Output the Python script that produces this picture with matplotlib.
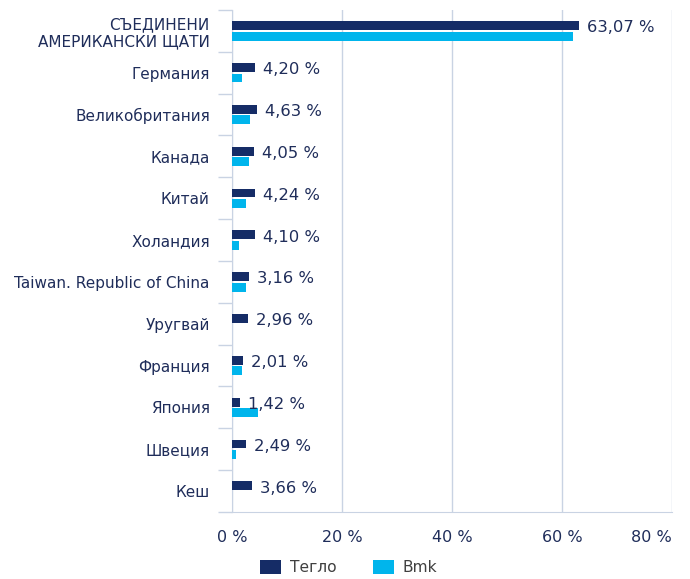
import matplotlib
matplotlib.use("Agg")
import matplotlib.pyplot as plt
import numpy as np

plt.rcParams["font.family"] = ["DejaVu Sans"]

categories = ["СЪЕДИНЕНИ\nАМЕРИКАНСКИ ЩАТИ", "Германия", "Великобритания", "Канада", "Китай",
              "Холандия", "Taiwan. Republic of China", "Уругвай", "Франция", "Япония",
              "Швеция", "Кеш"]
teglo = [63.07, 4.20, 4.63, 4.05, 4.24, 4.10, 3.16, 2.96, 2.01, 1.42, 2.49, 3.66]
bmk = [62.0, 1.9, 3.3, 3.0, 2.5, 1.2, 2.5, 0.0, 1.9, 4.8, 0.65, 0.0]
xticks = [0, 20, 40, 60, 80]
series_names = ["Тегло", "Bmk"]

navy = "#152c66"
cyan = "#00b5ec"
textc = "#1f2d5a"
gridc = "#c9d3e3"

fig = plt.figure(figsize=(6.9, 5.79), dpi=100)
ax = fig.add_axes([232/690, 1-512/579, 440/690, 502/579])

y = np.arange(len(categories))
h = 0.21
b1 = ax.barh(y - 0.125, teglo, height=h, color=navy, label=series_names[0], zorder=3)
b2 = ax.barh(y + 0.125, bmk, height=h, color=cyan, label=series_names[1], zorder=3)

for yi, v in zip(y, teglo):
    ax.text(v + 1.45, yi - 0.07, f"{v:.2f}".replace(".", ",") + " %", va="center", ha="left",
            fontsize=11.8, color=textc)

ax.set_xlim(0, 80)
ax.set_ylim(len(categories) - 0.5, -0.5)
ax.set_xticks(xticks)
ax.set_xticklabels([f"{t} %" for t in xticks], fontsize=11.5, color=textc)
ax.get_xticklabels()[-1].set_ha("right")
ax.set_yticks(y)
ax.set_yticklabels(categories, fontsize=11, color=textc, linespacing=1.15)
ax.set_yticks(np.arange(-0.5, len(categories), 1), minor=True)
ax.tick_params(axis="y", which="major", length=0, pad=16)
ax.tick_params(axis="y", which="minor", length=10, color=gridc, width=1)
ax.tick_params(axis="x", which="major", length=0, pad=13)
ax.grid(axis="x", color=gridc, linewidth=1, zorder=0)
for s in ["top", "right"]:
    ax.spines[s].set_visible(False)
ax.spines["left"].set_color(gridc)
ax.spines["bottom"].set_color(gridc)

leg = fig.legend(handles=[b1, b2], labels=series_names, loc="lower center",
                 bbox_to_anchor=(0.505, -0.018), ncol=2, frameon=False, fontsize=11.2,
                 handlelength=1.35, handleheight=1.0, columnspacing=2.35, handletextpad=0.55)
for t in leg.get_texts():
    t.set_color("#404040")

fig.savefig("out.png", dpi=100)
